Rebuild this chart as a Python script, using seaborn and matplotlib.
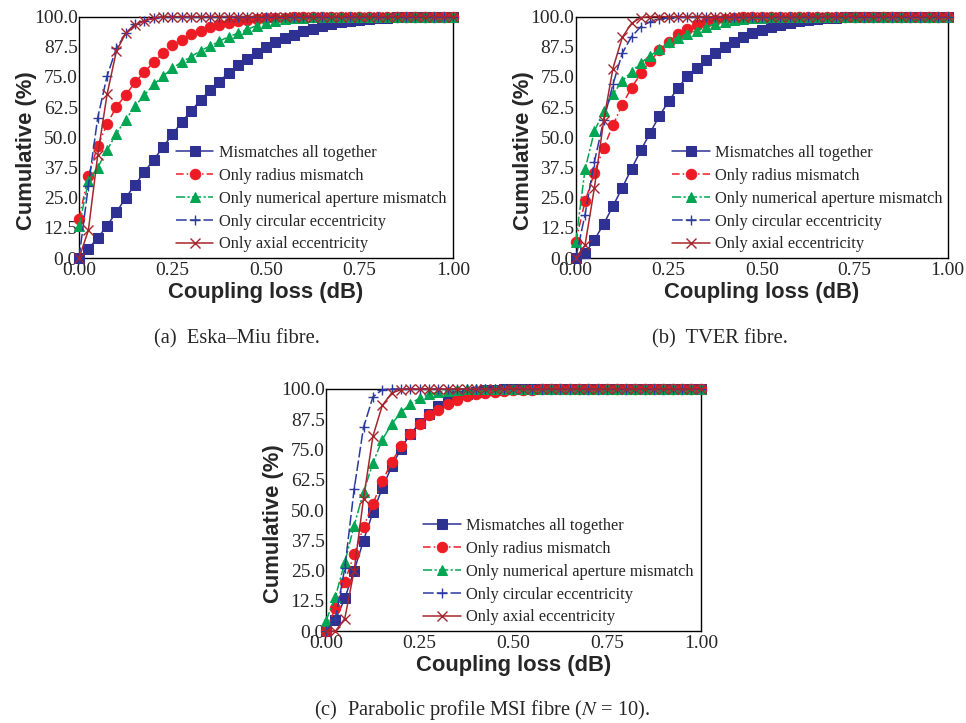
import numpy as np
import pandas as pd
import matplotlib
matplotlib.use("Agg")
import matplotlib.pyplot as plt
import seaborn as sns
from matplotlib.ticker import MultipleLocator

# coupling loss grid (dB)
loss = [round(i * 0.025, 3) for i in range(41)]

labels = ["Mismatches all together", "Only radius mismatch",
          "Only numerical aperture mismatch", "Only circular eccentricity",
          "Only axial eccentricity"]

# (a) Eska-Miu fibre
a_all = [0, 3.9, 8.3, 13.5, 19, 25, 30.4, 35.7, 40.8, 46, 51.3, 56.4, 61, 65.4, 69.6, 73,
         76.8, 80, 82.6, 85, 87.3, 89.3, 91, 92.5, 94, 95, 96.1, 97, 97.8, 98.3, 98.8, 99.2,
         99.4, 99.6, 99.7, 99.8, 99.9] + [100.0] * 4
a_rad = [16.3, 34, 46.5, 55.5, 62.7, 67.6, 72.8, 77, 81.2, 84.8, 88.1, 90.3, 92.7, 94.2,
         95.6, 96.7, 97.4, 98.1, 98.6, 99, 99.3, 99.5, 99.6, 99.7, 99.8, 99.9] + [100.0] * 15
a_na = [13.1, 31.8, 37.5, 44.7, 51.6, 57.4, 62.9, 67.6, 71.9, 75.4, 78.6, 81.3, 83.4, 85.9,
        87.8, 89.8, 91.7, 93.1, 94.7, 96.3, 97.5, 98.3, 98.9, 99.3, 99.6, 99.8, 99.9] + [100.0] * 14
a_circ = [0, 30, 58.1, 75.4, 86.9, 93.1, 97, 98.3, 99.3] + [100.0] * 32
a_axial = [0, 11.5, 42.6, 67.8, 85.8, 93.1, 96.5, 98.3, 99.3] + [100.0] * 32

# (b) TVER fibre
b_all = [0, 2.1, 7.5, 14.1, 21.5, 29.1, 37, 44.6, 51.9, 58.9, 65, 70.5, 75.3, 78.9, 82.1,
         85, 87.4, 89.6, 91.6, 93.4, 94.5, 95.6, 96.5, 97.4, 98.1, 98.6, 99, 99.3, 99.6,
         99.7, 99.8, 99.9] + [100.0] * 9
b_rad = [6.8, 23.5, 35.2, 45.7, 55, 63.6, 70.5, 76.5, 81.6, 86.1, 89.6, 92.8, 94.9, 96.5,
         97.6, 98.6, 99, 99.4, 99.7, 99.8, 99.9] + [100.0] * 20
b_na = [6.8, 36.7, 52.5, 60.9, 67.9, 73.4, 77.1, 80.9, 83.7, 86.6, 89.6, 91.3, 92.8, 94.2,
        95.8, 97, 97.9, 98.6, 98.9, 99.3, 99.6, 99.7, 99.8, 99.9] + [100.0] * 17
b_circ = [0, 18, 39.8, 57, 71.9, 84.8, 91.7, 95.8, 97.9, 99, 99.6] + [100.0] * 30
b_axial = [0, 5.4, 28.9, 56.8, 78.5, 91.4, 97.2, 99.6] + [100.0] * 33

# (c) Parabolic profile MSI fibre
c_all = [0, 4.6, 13.5, 25, 37.4, 49, 59, 68, 75.3, 81.5, 85.9, 89.5, 92.8, 94.9, 97, 98.1,
         98.9, 99.4, 99.7] + [100.0] * 22
c_rad = [0, 9.7, 20.4, 31.7, 42.9, 52.6, 61.8, 69.8, 76.3, 81.4, 85.7, 89.1, 91.4, 93.9,
         95.6, 97, 97.8, 98.3, 98.8, 99.2, 99.4, 99.6, 99.7, 99.8, 99.9] + [100.0] * 16
c_na = [4.3, 14.2, 28.4, 43.6, 57.4, 69.4, 79, 85.5, 90.3, 93.8, 96.3, 97.8, 98.6, 99.3,
        99.7] + [100.0] * 26
c_circ = [0, 5, 26, 58.6, 84.1, 96.7, 99.7] + [100.0] * 34
c_axial = [0, 0, 5.2, 25, 54.6, 80.4, 93.2, 98.3, 99.7] + [100.0] * 32

captions = ["(a)  Eska\u2013Miu fibre.", "(b)  TVER fibre.",
            "(c)  Parabolic profile MSI fibre ($N$ = 10)."]

styles = [
    dict(color="#2E3192", ls="-", marker="s", ms=6.5, mfc="#2E3192", mec="#2E3192"),
    dict(color="#ED1C24", ls=(0, (5, 2, 1, 2)), marker="o", ms=7.5, mfc="#ED1C24", mec="#ED1C24"),
    dict(color="#00A651", ls=(0, (6, 1.5, 1.5, 1.5)), marker="^", ms=7.5, mfc="#00A651", mec="#00A651"),
    dict(color="#2B3AA0", ls=(0, (7, 2)), marker="+", ms=7.5, mec="#2B3AA0", mew=1.0),
    dict(color="#A6262E", ls="-", marker="x", ms=6.5, mec="#A6262E", mew=1.0),
]


def draw(ax, series):
    for lab, vals, st in zip(labels, series, styles):
        st = dict(st)
        ls = st.pop("ls")
        sns.lineplot(x=loss, y=vals, ax=ax, label=lab, linestyle=ls, lw=1.1,
                     clip_on=False, zorder=3, **st)
    ax.set_xlim(0, 1)
    ax.set_ylim(0, 100)
    ax.xaxis.set_major_locator(MultipleLocator(0.25))
    ax.xaxis.set_minor_locator(MultipleLocator(0.125))
    ax.yaxis.set_major_locator(MultipleLocator(12.5))
    ax.set_xticklabels([f"{v:.2f}" for v in ax.get_xticks()])
    ax.set_yticklabels([f"{v:.1f}" for v in ax.get_yticks()])
    ax.tick_params(direction="in", length=5, width=1, labelsize=14, pad=3)
    ax.tick_params(axis="y", pad=1)
    ax.tick_params(which="minor", direction="in", length=3, width=1)
    for lab in ax.get_xticklabels() + ax.get_yticklabels():
        lab.set_family("Liberation Serif")
    ax.set_xlabel("Coupling loss (dB)", fontsize=15.8, fontweight="bold",
                  family="Liberation Sans", labelpad=2)
    ax.set_ylabel("Cumulative (%)", fontsize=15.8, fontweight="bold",
                  family="Liberation Sans")
    ax.yaxis.set_label_coords(-0.112, 0.445)
    for sp in ax.spines.values():
        sp.set_linewidth(1.0)
        sp.set_color("black")
    ax.legend(loc="lower left", bbox_to_anchor=(0.25, 0.01), frameon=False,
              prop={"family": "Liberation Serif", "size": 11.8},
              handlelength=2.3, handletextpad=0.35, labelspacing=0.42,
              borderaxespad=0.0, borderpad=0.2)


sns.set_style("white")
plt.rcParams["mathtext.fontset"] = "stix"
fig = plt.figure(figsize=(9.66, 7.23), dpi=100)
ax_a = fig.add_axes([0.0818, 0.643, 0.387, 0.334])
ax_b = fig.add_axes([0.596, 0.643, 0.385, 0.334])
ax_c = fig.add_axes([0.3375, 0.127, 0.388, 0.335])

draw(ax_a, [a_all, a_rad, a_na, a_circ, a_axial])
draw(ax_b, [b_all, b_rad, b_na, b_circ, b_axial])
draw(ax_c, [c_all, c_rad, c_na, c_circ, c_axial])

fig.text(0.245, 0.531, captions[0], ha="center", va="center", fontsize=14.8,
         family="Liberation Serif")
fig.text(0.745, 0.531, captions[1], ha="center", va="center", fontsize=14.8,
         family="Liberation Serif")
fig.text(0.499, 0.018, captions[2], ha="center", va="center", fontsize=14.8,
         family="Liberation Serif")

fig.savefig("out.png", dpi=100)
